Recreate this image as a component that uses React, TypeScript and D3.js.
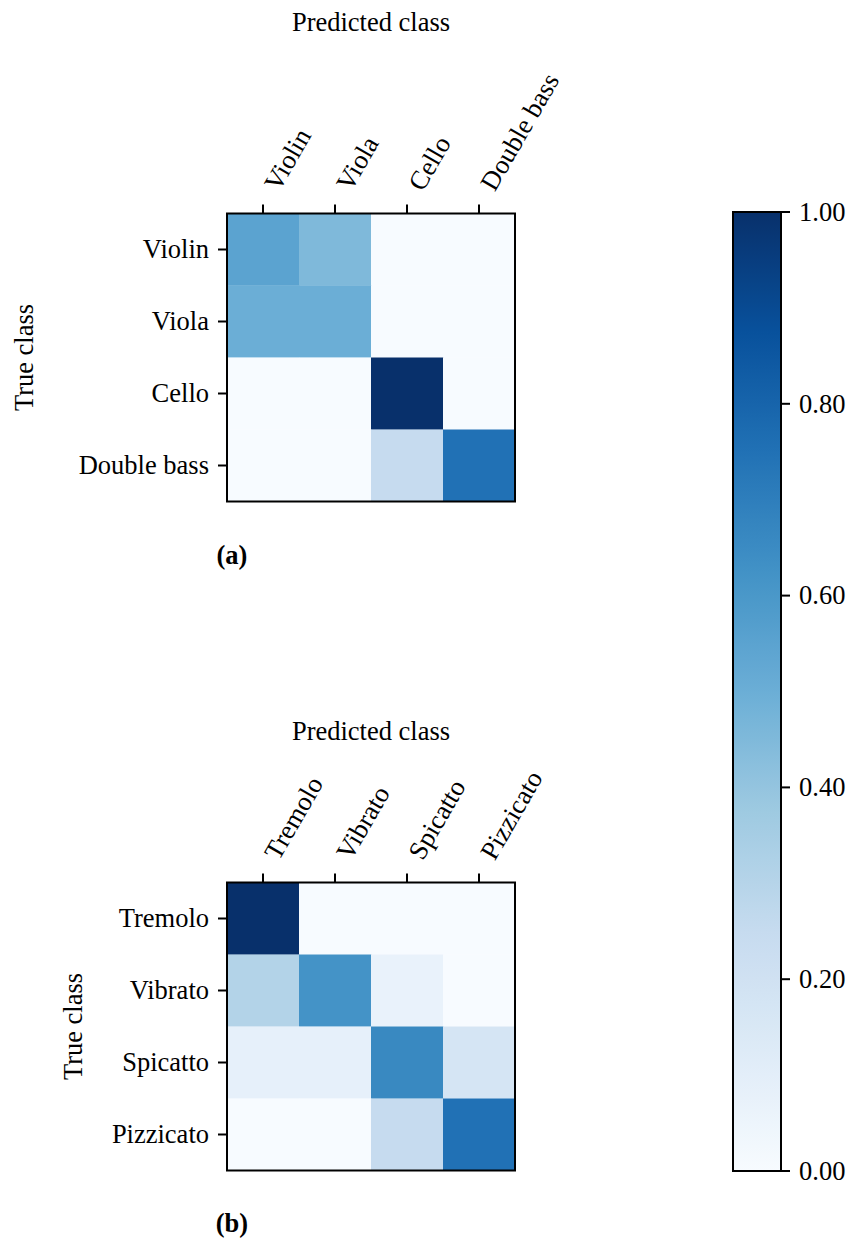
import React, { useEffect, useRef } from "react";
import * as d3 from "d3";

// Instrument confusion matrix (rows: true class, columns: predicted class)
const instrumentClasses = ["Violin", "Viola", "Cello", "Double bass"];
const instrumentMatrix = [
  [0.55, 0.45, 0.0, 0.0],
  [0.5, 0.5, 0.0, 0.0],
  [0.0, 0.0, 1.0, 0.0],
  [0.0, 0.0, 0.25, 0.75],
];

// Playing-technique confusion matrix
const techniqueClasses = ["Tremolo", "Vibrato", "Spicatto", "Pizzicato"];
const techniqueMatrix = [
  [1.0, 0.0, 0.0, 0.0],
  [0.31, 0.62, 0.07, 0.0],
  [0.085, 0.085, 0.66, 0.17],
  [0.0, 0.0, 0.25, 0.75],
];

const colorbarTicks = [0, 0.2, 0.4, 0.6, 0.8, 1.0];

// Sequential "Blues" palette stops
const bluesStops = [
  "#f7fbff", "#deebf7", "#c6dbef", "#9ecae1", "#6baed6",
  "#4292c6", "#2171b5", "#08519c", "#08306b",
];

const W = 853;
const H = 1242;
const FONT = "'Liberation Serif', 'Times New Roman', serif";
const FS = 26.5;
const LW = 2;
const TICK = 9;
const PAD = 9;

export default function App() {
  const ref = useRef<SVGSVGElement | null>(null);

  useEffect(() => {
    const svg = d3.select(ref.current);
    svg.selectAll("*").remove();

    const color = d3
      .scaleLinear<string>()
      .domain(bluesStops.map((_, i) => i / (bluesStops.length - 1)))
      .range(bluesStops)
      .interpolate(d3.interpolateRgb)
      .clamp(true);

    const panels = [
      {
        classes: instrumentClasses,
        matrix: instrumentMatrix,
        top: 213.5,
        titleY: 31,
        ylabelX: 33,
        tag: "(a)",
        tagY: 564,
      },
      {
        classes: techniqueClasses,
        matrix: techniqueMatrix,
        top: 882.5,
        titleY: 740,
        ylabelX: 82,
        tag: "(b)",
        tagY: 1232,
      },
    ];

    const left = 227;
    const size = 288;

    panels.forEach((p) => {
      const g = svg.append("g");
      const x = d3.scaleBand<string>().domain(p.classes).range([left, left + size]);
      const y = d3.scaleBand<string>().domain(p.classes).range([p.top, p.top + size]);

      const cells = p.matrix.flatMap((row, i) =>
        row.map((v, j) => ({ r: p.classes[i], c: p.classes[j], v }))
      );
      g.selectAll("rect.cell")
        .data(cells)
        .join("rect")
        .attr("class", "cell")
        .attr("x", (d) => x(d.c)!)
        .attr("y", (d) => y(d.r)!)
        .attr("width", x.bandwidth() + 0.3)
        .attr("height", y.bandwidth() + 0.3)
        .attr("fill", (d) => color(d.v));

      // frame
      g.append("rect")
        .attr("x", left)
        .attr("y", p.top)
        .attr("width", size)
        .attr("height", size)
        .attr("fill", "none")
        .attr("stroke", "#000")
        .attr("stroke-width", LW);

      // top ticks + rotated labels
      p.classes.forEach((c) => {
        const cx = x(c)! + x.bandwidth() / 2;
        g.append("line")
          .attr("x1", cx).attr("x2", cx)
          .attr("y1", p.top).attr("y2", p.top - TICK)
          .attr("stroke", "#000").attr("stroke-width", LW);
        const ax = cx + 0.866 * 0.69 * FS;
        const ay = p.top - TICK - PAD - 0.5 * 0.22 * FS;
        g.append("text")
          .attr("transform", `translate(${ax},${ay}) rotate(-60)`)
          .attr("font-family", FONT)
          .attr("font-size", FS)
          .attr("text-anchor", "start")
          .text(c);
      });

      // left ticks + labels
      p.classes.forEach((c) => {
        const cy = y(c)! + y.bandwidth() / 2;
        g.append("line")
          .attr("x1", left).attr("x2", left - TICK)
          .attr("y1", cy).attr("y2", cy)
          .attr("stroke", "#000").attr("stroke-width", LW);
        g.append("text")
          .attr("x", left - TICK - PAD)
          .attr("y", cy)
          .attr("dy", "0.33em")
          .attr("font-family", FONT)
          .attr("font-size", FS)
          .attr("text-anchor", "end")
          .text(c);
      });

      g.append("text")
        .attr("x", left + size / 2)
        .attr("y", p.titleY)
        .attr("font-family", FONT)
        .attr("font-size", FS)
        .attr("text-anchor", "middle")
        .text("Predicted class");

      g.append("text")
        .attr("transform", `translate(${p.ylabelX},${p.top + size / 2}) rotate(-90)`)
        .attr("font-family", FONT)
        .attr("font-size", FS)
        .attr("text-anchor", "middle")
        .text("True class");

      g.append("text")
        .attr("x", 232)
        .attr("y", p.tagY)
        .attr("font-family", FONT)
        .attr("font-size", FS)
        .attr("font-weight", "bold")
        .attr("text-anchor", "middle")
        .text(p.tag);
    });

    // colorbar
    const cbX = 733;
    const cbW = 48;
    const cbTop = 212;
    const cbBottom = 1171;
    const cy = d3.scaleLinear().domain([0, 1]).range([cbBottom, cbTop]);

    const defs = svg.append("defs");
    const grad = defs
      .append("linearGradient")
      .attr("id", "cbGrad")
      .attr("x1", 0).attr("y1", 1).attr("x2", 0).attr("y2", 0);
    d3.range(0, 1.0001, 0.025).forEach((t) => {
      grad.append("stop").attr("offset", t).attr("stop-color", color(t));
    });

    svg.append("rect")
      .attr("x", cbX)
      .attr("y", cy(1))
      .attr("width", cbW)
      .attr("height", cy(0) - cy(1))
      .attr("fill", "url(#cbGrad)")
      .attr("stroke", "#000")
      .attr("stroke-width", LW);

    const cbAxis = svg.append("g");
    colorbarTicks.forEach((t) => {
      cbAxis.append("line")
        .attr("x1", cbX + cbW).attr("x2", cbX + cbW + TICK)
        .attr("y1", cy(t)).attr("y2", cy(t))
        .attr("stroke", "#000").attr("stroke-width", LW);
      cbAxis.append("text")
        .attr("x", cbX + cbW + TICK + PAD)
        .attr("y", cy(t))
        .attr("dy", "0.33em")
        .attr("font-family", FONT)
        .attr("font-size", FS)
        .text(d3.format(".2f")(t));
    });
  }, []);

  return (
    <svg
      ref={ref}
      width={W}
      height={H}
      style={{ position: "absolute", left: 0, top: 0, background: "#fff" }}
    />
  );
}
